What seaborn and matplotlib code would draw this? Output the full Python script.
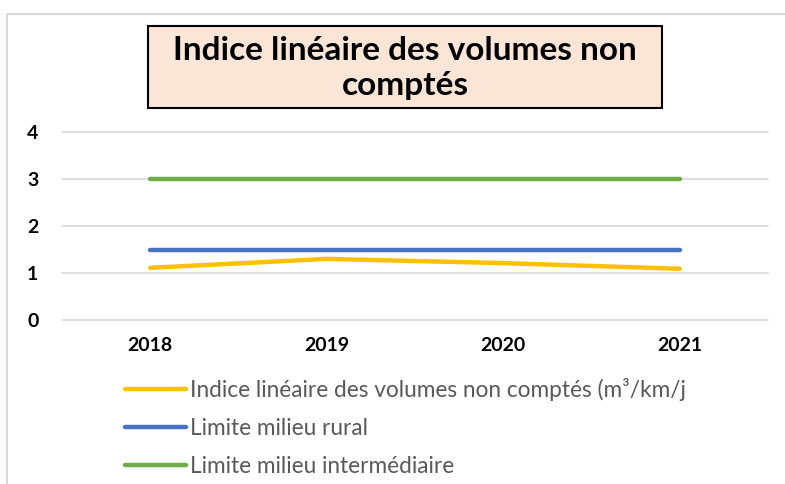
import seaborn as sns
import pandas as pd
import matplotlib.pyplot as plt
from matplotlib.patches import Rectangle

# donnees
annees = ["2018", "2019", "2020", "2021"]
indice = [1.11, 1.30, 1.21, 1.09]
limite_rural = [1.5, 1.5, 1.5, 1.5]
limite_inter = [3.0, 3.0, 3.0, 3.0]
series = ["Indice linéaire des volumes non comptés (m³/km/j",
          "Limite milieu rural",
          "Limite milieu intermédiaire"]
couleurs = ["#FFC000", "#4472C4", "#70AD47"]

df = pd.DataFrame({
    "annee": annees * 3,
    "valeur": indice + limite_rural + limite_inter,
    "serie": [series[0]] * 4 + [series[1]] * 4 + [series[2]] * 4,
})

sns.set_style("white")
plt.rcParams["font.family"] = ["Lato", "DejaVu Sans"]

fig = plt.figure(figsize=(7.85, 4.84), dpi=100)
ax = fig.add_axes([62 / 785, 164 / 484, 706 / 785, 188 / 484])

graph = sns.lineplot(data=df, x="annee", y="valeur", hue="serie", palette=couleurs,
                     linewidth=3.2, ax=ax, sort=False)
for l in graph.lines:
    l.set_solid_capstyle("round")

graph.set_xlim(-0.5, 3.5)
graph.set_ylim(0, 4)
graph.set_yticks([0, 1, 2, 3, 4])
graph.set_xlabel("")
graph.set_ylabel("")
graph.grid(axis="y", color="#D9D9D9", linewidth=1.2)
graph.set_axisbelow(True)
for g in graph.get_ygridlines():
    g.set_clip_on(False)
for s in graph.spines.values():
    s.set_visible(False)
graph.tick_params(axis="both", length=0, labelsize=14, colors="black")
for t in graph.get_xticklabels() + graph.get_yticklabels():
    t.set_fontweight("bold")
graph.xaxis.set_tick_params(pad=12)
graph.yaxis.set_tick_params(pad=17)

handles, labels = graph.get_legend_handles_labels()
graph.legend(handles, labels, loc="upper left", bbox_to_anchor=(125 / 785, 1 - 378 / 484),
             bbox_transform=fig.transFigure, frameon=False, borderpad=0, borderaxespad=0,
             handlelength=2.7, handletextpad=0.15, labelspacing=0.76, fontsize=16.3,
             labelcolor="#595959")

# cadre exterieur
fig.patches.append(Rectangle((7 / 785, -0.1), 1.1, 1 - 14 / 484 + 0.1, transform=fig.transFigure,
                             fill=False, edgecolor="#D9D9D9", linewidth=1.5))
# boite du titre
fig.patches.append(Rectangle((148 / 785, 1 - 108 / 484), 514 / 785, 82 / 484, transform=fig.transFigure,
                             facecolor="#FBE5D6", edgecolor="black", linewidth=1.5))
fig.text(405 / 785, 1 - 68 / 484, "Indice linéaire des volumes non\ncomptés", ha="center", va="center",
         fontsize=24, fontweight="bold", linespacing=1.28, color="black")

fig.savefig("out.png", dpi=100)
